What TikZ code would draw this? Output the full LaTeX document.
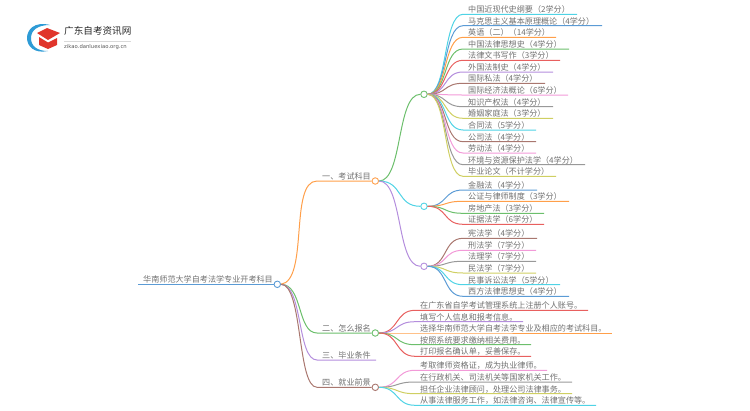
\documentclass[tikz,border=0pt]{standalone}
\usepackage{fontspec}
\setmainfont{Noto Sans CJK SC}
\setsansfont{DejaVu Sans}
\definecolor{cOrange}{HTML}{FF9F4A}
\definecolor{cBlue}{HTML}{5B9BD5}
\definecolor{cGreen}{HTML}{6CBF6C}
\definecolor{cRed}{HTML}{E8605F}
\definecolor{cPurple}{HTML}{B48EDD}
\definecolor{cBrown}{HTML}{A9776F}
\definecolor{cPink}{HTML}{F29AD8}
\definecolor{cGray}{HTML}{999999}
\definecolor{cOlive}{HTML}{CFCF62}
\definecolor{cCyan}{HTML}{4FD3E5}
\definecolor{cText}{HTML}{707070}
\definecolor{cLogoRed}{HTML}{E0352B}
\definecolor{cLogoBlue}{HTML}{2E9BD6}
\tikzset{
	hub/.style={circle,draw=#1,fill=white,line width=0.9pt,inner sep=0pt,minimum size=6.5pt},
	wire/.style={line width=1pt,#1},
	lab/.style={anchor=base west,inner sep=0pt,text=cText,font=\fontsize{8.1}{9}\selectfont},
}
\begin{document}
\begin{tikzpicture}[x=1pt,y=-1pt]
\useasboundingbox (0,0) rectangle (750,410);

% Logo
\fill[cLogoBlue] (50,25) .. controls (34,21) and (27,30) .. (27,38) .. controls (27,46) and (34,54) .. (48,51) .. controls (37,51) and (31,46) .. (31,38) .. controls (31,30) and (38,25) .. (50,25) -- cycle;
\fill[cLogoRed] (37,33) -- (47,28) -- (60,33) -- (48,40) -- cycle;
\fill[cLogoRed] (39,37) -- (48,42.5) -- (57,38) -- (57,45) -- (48,49) -- (39,45) -- cycle;
\node[anchor=west,inner sep=0pt,text=black!85,font=\fontsize{9.6}{10}\selectfont] (logotitle) at (64,31) {广东自考资讯网};
\node[anchor=west,inner sep=0pt,text=black!65,font=\sffamily\fontsize{5.3}{6}\selectfont] (logourl) at (64,46.7) {zikao.danluexiao.org.cn};
\draw[black!15,line width=0.4pt] (logotitle.west |- 0,40.7) -- (131,40.7);

% Hubs
\node[hub=cBlue] (root) at (277.3,284.3) {};
\node[hub=cOrange] (kemu) at (375.3,181) {};
\node[hub=cGreen] (baoming) at (375.3,333) {};
\node[hub=cBrown] (qianjing) at (375.3,387.3) {};
\node[hub=cGreen] (kemuA) at (424,94.3) {};
\node[hub=cCyan] (kemuB) at (424,206.3) {};
\node[hub=cPurple] (kemuC) at (424,266.3) {};

% Root
\coordinate (rootstart) at (138,284.3);
\draw[wire=cBlue] (rootstart) -- (root.west);
\node[lab] (roottext) at (143,282.8) {华南师范大学自考法学专业开考科目};

% First level
\foreach \name/\y/\txt in {
	one/181/一、考试科目,
	two/333/二、怎么报名,
	three/360/三、毕业条件,
	four/387.3/四、就业前景}
{
	\coordinate (s\name) at (317,\y);
	\node[lab] (t\name) at (322,\y-1.5) {\txt};
}
\draw[wire=cOrange] (root.east) .. controls +(28,-4) and +(-28,0) .. (sone) -- (kemu.west);
\draw[wire=cGreen] (root.east) .. controls +(22,0) and +(-20,0) .. (stwo) -- (baoming.west);
\coordinate (ethree) at (376,360);
\draw[wire=cPurple] (root.east) .. controls +(22,0) and +(-20,0) .. (sthree) -- (ethree);
\draw[wire=cBrown] (root.east) .. controls +(22,0) and +(-20,0) .. (sfour) -- (qianjing.west);

% Second level
\draw[wire=cGreen] (kemu.east) .. controls +(24,0) and +(-24,0) .. (kemuA.west);
\draw[wire=cCyan] (kemu.east) .. controls +(24,0) and +(-24,0) .. (kemuB.west);
\draw[wire=cPurple] (kemu.east) .. controls +(24,0) and +(-24,0) .. (kemuC.west);

% Leaves
\newcommand{\leaf}[7]{% name, parent, y, start x, end x, colour, text
	\coordinate (#1s) at (#4,#3);
	\coordinate (#1e) at (#5,#3);
	\node[lab] (#1) at (#4+5,#3-1.5) {#7};
	\draw[wire=#6] (#2.east) .. controls +(20,0) and +(-20,0) .. (#1s) -- (#1e);
}
\leaf{a1}{kemuA}{14.3}{463}{577}{cCyan}{中国近现代史纲要（2学分）}
\leaf{a2}{kemuA}{25.7}{463}{602}{cBlue}{马克思主义基本原理概论（4学分）}
\leaf{a3}{kemuA}{37.3}{463}{556}{cOrange}{英语（二）（14学分）}
\leaf{a4}{kemuA}{49}{463}{569}{cGreen}{中国法律思想史（4学分）}
\leaf{a5}{kemuA}{60.3}{463}{560}{cRed}{法律文书写作（3学分）}
\leaf{a6}{kemuA}{72}{463}{553}{cPurple}{外国法制史（4学分）}
\leaf{a7}{kemuA}{83.3}{463}{545}{cBrown}{国际私法（4学分）}
\leaf{a8}{kemuA}{95}{463}{568}{cPink}{国际经济法概论（6学分）}
\leaf{a9}{kemuA}{106.7}{463}{553}{cGray}{知识产权法（4学分）}
\leaf{a10}{kemuA}{118.3}{463}{553}{cOlive}{婚姻家庭法（3学分）}
\leaf{a11}{kemuA}{130}{463}{536}{cCyan}{合同法（5学分）}
\leaf{a12}{kemuA}{141.7}{463}{536}{cBrown}{公司法（4学分）}
\leaf{a13}{kemuA}{153}{463}{536}{cPink}{劳动法（4学分）}
\leaf{a14}{kemuA}{164.7}{463}{585}{cGray}{环境与资源保护法学（4学分）}
\leaf{a15}{kemuA}{176.3}{463}{556}{cOlive}{毕业论文（不计学分）}

\leaf{b1}{kemuB}{190}{463}{537}{cBlue}{金融法（4学分）}
\leaf{b2}{kemuB}{201.3}{463}{569}{cOrange}{公证与律师制度（3学分）}
\leaf{b3}{kemuB}{213.3}{463}{544}{cGreen}{房地产法（3学分）}
\leaf{b4}{kemuB}{224.3}{463}{544}{cRed}{证据法学（6学分）}

\leaf{c1}{kemuC}{238.3}{463}{537}{cBrown}{宪法学（4学分）}
\leaf{c2}{kemuC}{250.3}{463}{536}{cPink}{刑法学（7学分）}
\leaf{c3}{kemuC}{261.3}{463}{536}{cGray}{法理学（7学分）}
\leaf{c4}{kemuC}{273}{463}{536}{cOlive}{民法学（7学分）}
\leaf{c5}{kemuC}{284.7}{463}{560}{cCyan}{民事诉讼法学（5学分）}
\leaf{c6}{kemuC}{296.3}{463}{569}{cBlue}{西方法律思想史（4学分）}

\leaf{d1}{baoming}{310.3}{415}{588}{cRed}{在广东省自学考试管理系统上注册个人账号。}
\leaf{d2}{baoming}{321.7}{415}{523}{cPurple}{填写个人信息和报考信息。}
\leaf{d3}{baoming}{333}{415}{612}{cOrange}{选择华南师范大学自考法学专业及相应的考试科目。}
\leaf{d4}{baoming}{344.7}{415}{531}{cGreen}{按照系统要求缴纳相关费用。}
\leaf{d5}{baoming}{356.3}{415}{531}{cRed}{打印报名确认单，妥善保存。}

\leaf{e1}{qianjing}{370.3}{415}{547}{cPink}{考取律师资格证，成为执业律师。}
\leaf{e2}{qianjing}{382}{415}{572}{cGray}{在行政机关、司法机关等国家机关工作。}
\leaf{e3}{qianjing}{393.7}{415}{572}{cOlive}{担任企业法律顾问，处理公司法律事务。}
\leaf{e4}{qianjing}{405.3}{415}{596}{cCyan}{从事法律服务工作，如法律咨询、法律宣传等。}
\end{tikzpicture}
\end{document}
